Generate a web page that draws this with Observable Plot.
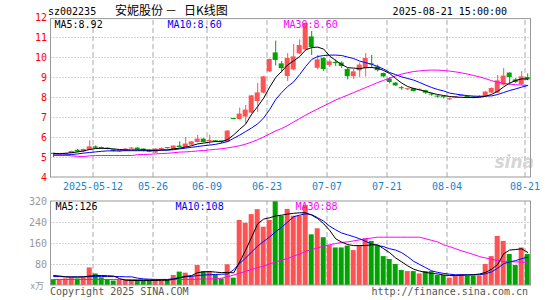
<!DOCTYPE html>
<html><head><meta charset="utf-8">
<script src="https://cdn.jsdelivr.net/npm/d3@7"></script>
<script src="https://cdn.jsdelivr.net/npm/@observablehq/plot@0.6"></script>
<style>
body{margin:0;background:#fff;}
#wrap{position:relative;width:545px;height:300px;overflow:hidden;font-family:"DejaVu Sans Mono",monospace;}
.t{position:absolute;white-space:pre;line-height:12px;font-size:10px;}
.c{position:absolute;white-space:pre;font-family:'Noto Sans CJK SC';font-size:12px;line-height:14px;color:#000;top:3px;}
#p1,#p2{position:absolute;left:0;}
#p1{top:0;} #p2{top:190px;}
</style></head><body>
<div id="wrap">
  <div id="p1"></div><div id="p2"></div>
  <div class="t" style="left:48px;top:6px;color:#000">sz002235</div>
  <div class="c" style="left:115px;">安妮股份</div>
  <div class="c" style="left:165px;">－</div>
  <div class="c" style="left:184px;">日K线图</div>
  <div class="t" style="right:38px;top:6px;color:#000">2025-08-21 15:00:00</div>
  <div class="t" style="left:50px;top:286px;color:#555">Copyright 2025 SINA.COM</div>
  <div class="t" style="right:17px;top:286px;color:#555">http://finance.sina.com.cn</div>
</div>
<script>
const dates = ["04-28","04-29","04-30","05-06","05-07","05-08","05-09","05-12","05-13","05-14","05-15","05-16","05-19","05-20","05-21","05-22","05-23","05-26","05-27","05-28","05-29","05-30","06-03","06-04","06-05","06-06","06-09","06-10","06-11","06-12","06-13","06-16","06-17","06-18","06-19","06-20","06-23","06-24","06-25","06-26","06-27","06-30","07-01","07-02","07-03","07-04","07-07","07-08","07-09","07-10","07-11","07-14","07-15","07-16","07-17","07-18","07-21","07-22","07-23","07-24","07-25","07-28","07-29","07-30","07-31","08-01","08-04","08-05","08-06","08-07","08-08","08-11","08-12","08-13","08-14","08-15","08-18","08-19","08-20","08-21"];
const openP  = [5.20,5.12,5.14,5.20,5.36,5.28,5.37,5.53,5.50,5.45,5.38,5.28,5.32,5.42,5.47,5.42,5.36,5.22,5.38,5.46,5.40,5.57,5.50,5.62,5.75,5.92,5.80,5.82,5.81,5.76,6.92,6.90,7.02,7.22,7.80,8.22,9.28,10.23,9.68,9.05,9.38,10.18,10.38,11.03,9.46,9.96,9.60,9.72,9.72,9.40,9.04,9.33,9.45,9.68,9.52,9.20,8.92,8.72,8.46,8.39,8.44,8.36,8.34,8.14,8.04,8.01,7.88,7.99,8.05,8.07,8.02,8.00,8.06,8.22,8.22,8.62,9.22,8.88,8.64,9.00];
const highP  = [5.22,5.18,5.22,5.32,5.40,5.42,5.83,5.58,5.52,5.47,5.40,5.36,5.45,5.50,5.48,5.43,5.37,5.44,5.48,5.47,5.58,5.78,6.00,5.80,6.10,5.94,6.10,5.84,5.82,6.34,6.93,7.47,7.60,8.10,8.70,9.05,9.92,10.82,9.80,10.20,10.65,10.88,11.72,11.30,10.10,9.98,9.88,9.88,9.78,9.45,9.40,9.72,10.20,10.10,9.62,9.22,9.00,8.75,8.55,8.44,8.46,8.42,8.36,8.22,8.10,8.06,7.97,8.05,8.12,8.10,8.05,8.10,8.30,8.48,9.10,9.45,9.24,8.95,9.30,9.18];
const lowP   = [5.00,5.08,5.10,5.18,5.24,5.26,5.35,5.40,5.42,5.38,5.27,5.25,5.30,5.40,5.36,5.28,5.24,5.20,5.36,5.42,5.39,5.48,5.48,5.60,5.73,5.73,5.62,5.76,5.70,5.74,6.89,6.88,6.68,7.20,7.24,8.18,9.25,9.58,9.22,8.80,9.33,10.15,10.35,10.10,9.38,9.30,9.50,9.55,9.45,8.88,8.90,9.00,9.03,9.45,9.28,8.98,8.68,8.55,8.36,8.34,8.27,8.33,8.15,8.06,7.97,7.93,7.85,7.96,8.03,7.95,7.93,7.98,8.04,8.20,8.18,8.58,8.62,8.70,8.60,8.84];
const closeP = [5.16,5.16,5.20,5.30,5.28,5.40,5.53,5.46,5.45,5.42,5.30,5.34,5.42,5.46,5.38,5.34,5.26,5.42,5.45,5.44,5.57,5.50,5.67,5.78,5.92,5.75,5.86,5.79,5.78,6.32,6.90,7.17,7.37,8.08,8.23,9.03,9.90,9.85,9.44,9.95,10.03,10.60,11.70,10.50,9.88,9.40,9.78,9.70,9.55,9.04,9.28,9.62,9.95,9.63,9.34,9.03,8.75,8.58,8.44,8.41,8.30,8.39,8.22,8.12,8.02,7.99,7.94,8.02,8.08,7.98,7.96,8.05,8.27,8.45,8.83,9.07,9.00,8.75,9.03,8.88];
const ma5P  = [5.20,5.20,5.21,5.24,5.28,5.33,5.40,5.45,5.46,5.45,5.43,5.40,5.38,5.38,5.38,5.38,5.37,5.36,5.38,5.38,5.43,5.47,5.52,5.59,5.68,5.72,5.77,5.80,5.79,5.90,6.13,6.41,6.67,7.17,7.55,7.97,8.52,9.00,9.31,9.63,9.83,10.05,10.38,10.50,10.52,10.42,10.07,9.85,9.65,9.49,9.47,9.44,9.49,9.50,9.46,9.35,9.20,8.95,8.72,8.55,8.45,8.38,8.30,8.22,8.15,8.10,8.05,8.02,8.01,8.00,8.00,8.01,8.06,8.16,8.31,8.53,8.72,8.85,8.93,8.92];
const ma10P = [5.12,5.12,5.13,5.15,5.18,5.22,5.25,5.28,5.31,5.33,5.33,5.33,5.34,5.34,5.34,5.34,5.34,5.35,5.36,5.37,5.39,5.43,5.47,5.51,5.55,5.59,5.62,5.66,5.72,5.80,5.96,6.12,6.30,6.48,6.68,6.98,7.40,7.90,8.25,8.55,8.78,9.15,9.55,9.90,10.05,10.10,10.12,10.12,10.10,10.02,9.95,9.82,9.74,9.66,9.55,9.42,9.25,9.14,9.03,8.95,8.87,8.75,8.62,8.50,8.40,8.33,8.22,8.17,8.13,8.09,8.07,8.06,8.07,8.08,8.15,8.25,8.35,8.43,8.52,8.60];
const ma30P = [5.12,5.12,5.11,5.08,5.06,5.05,5.08,5.10,5.10,5.10,5.10,5.10,5.10,5.10,5.14,5.15,5.16,5.18,5.20,5.21,5.24,5.27,5.28,5.30,5.33,5.35,5.38,5.41,5.44,5.48,5.53,5.59,5.67,5.77,5.89,6.03,6.18,6.33,6.45,6.60,6.78,6.95,7.12,7.28,7.43,7.58,7.72,7.88,8.00,8.12,8.25,8.37,8.50,8.62,8.75,8.86,8.97,9.08,9.17,9.24,9.30,9.33,9.36,9.37,9.37,9.35,9.32,9.28,9.23,9.17,9.10,9.03,8.94,8.84,8.76,8.71,8.67,8.64,8.62,8.60];
const volume = [22,22,25,28,25,29,67,44,29,22,17,19,22,22,19,19,19,19,22,19,38,51,47,34,76,53,53,40,25,79,28,248,237,270,289,222,248,322,264,290,264,264,305,193,216,182,152,143,143,150,133,152,178,168,150,110,99,80,57,53,53,44,53,53,38,38,28,38,41,36,36,36,80,110,187,168,118,76,143,118];
const ma5V  = [38,36,33,32,32,33,36,38,38,37,36,26,20,19,19,19,19,19,20,20,24,30,35,38,49,52,53,51,49,50,48,90,135,185,235,253,258,265,268,272,275,277,277,268,255,235,210,178,165,156,152,152,152,155,155,140,125,105,90,75,62,55,50,46,44,40,38,38,39,40,41,44,50,62,80,121,135,137,140,126];
const ma10V = [34,34,33,33,33,33,34,34,34,34,34,34,33,33,28,25,24,23,23,23,26,30,33,35,38,40,41,42,43,44,60,84,105,128,150,168,185,205,222,242,262,268,273,270,258,245,226,212,200,193,186,178,168,158,152,148,140,135,125,110,92,80,68,56,50,46,43,41,41,41,41,41,45,52,66,83,90,95,102,108];
const ma30V = [23,23,23,23,23,23,23,23,23,23,23,23,23,23,23,23,23,23,23,23,23,23,23,23,24,25,25,26,28,33,40,47,54,61,68,74,82,90,97,103,112,120,130,137,143,150,155,160,164,166,170,174,178,181,184,184,184,184,184,184,184,184,178,172,166,155,148,140,132,125,118,110,105,100,95,91,91,90,89,88];
const tickDates  = ["05-12","05-26","06-09","06-23","07-07","07-21","08-04","08-21"];
const tickLabels = ["2025-05-12","05-26","06-09","06-23","07-07","07-21","08-04","08-21"];
const priceTicks = [4,5,6,7,8,9,10,11,12];
const volTicks = [80,160,240,320];
const volTickLabels = ["80","160","240","320"];

const RED = "#ff5252", GREEN = "#00a300";
const rows = dates.map((d,i)=>({i, d, o:openP[i], h:highP[i], l:lowP[i], c:closeP[i], v:volume[i], col: closeP[i]>=openP[i] ? RED : GREEN}));
const tIdx = tickDates.map(t => dates.indexOf(t));
const ticks = tIdx.map((i,k)=>({i, label: tickLabels[k]}));
const series = (arr) => arr.map((v,i)=>({i, v}));
const font = "DejaVu Sans Mono";

const p1 = Plot.plot({
  width:545, height:190, marginLeft:50.5, marginRight:14.5, marginTop:17, marginBottom:13,
  x:{type:"linear", domain:[0,80], axis:null},
  y:{domain:[4,12], axis:null},
  style:{background:"transparent", fontFamily:font, fontSize:"10px", overflow:"visible"},
  marks:[
    Plot.ruleY(priceTicks.filter(t=>t>4&&t<12), {x1:0, x2:80, stroke:"#aaa", strokeDasharray:"1,2"}),
    Plot.ruleX(ticks, {x:"i", y1:4, y2:11.92, stroke:"#aaa", strokeDasharray:"5,3"}),
    Plot.text(["sina"], {x:77.2, y:4.75, text:d=>d, fill:"#d6d6d6", fontSize:17, fontWeight:"bold", fontStyle:"italic", fontFamily:"DejaVu Sans"}),
    Plot.ruleX(rows, {x:r=>r.i+0.45, y1:"l", y2:"h", stroke:"col"}),
    Plot.rect(rows, {x1:r=>r.i+0.033, x2:r=>r.i+0.867, y1:r=>Math.min(r.o,r.c), y2:r=>Math.max(Math.max(r.o,r.c), Math.min(r.o,r.c)+0.05), fill:"col"}),
    Plot.line(series(ma30P), {x:d=>d.i+0.45, y:"v", stroke:"#ff00ff", strokeWidth:1}),
    Plot.line(series(ma10P), {x:d=>d.i+0.45, y:"v", stroke:"#0000ff", strokeWidth:1}),
    Plot.line(series(ma5P), {x:d=>d.i+0.45, y:"v", stroke:"#000", strokeWidth:1}),
    Plot.rect([0], {x1:0, x2:80, y1:4, y2:11.92, fill:"none", stroke:"#999"}),
    Plot.text(priceTicks, {x:0, y:d=>d, text:d=>String(d), dx:-4, textAnchor:"end", fill:"#ff0000", fontSize:10}),
    Plot.text(ticks, {x:"i", y:4, text:"label", dy:9, fill:"#1a84c8", fontSize:10}),
    Plot.text(["MA5:"+ma5P[79].toFixed(2)], {frameAnchor:"top-left", dx:3.5, dy:7.5, text:d=>d, fill:"#000", textAnchor:"start", lineAnchor:"middle"}),
    Plot.text(["MA10:"+ma10P[79].toFixed(2)], {frameAnchor:"top-left", dx:116.5, dy:7.5, text:d=>d, fill:"#0000ff", textAnchor:"start", lineAnchor:"middle"}),
    Plot.text(["MA30:"+ma30P[79].toFixed(2)], {frameAnchor:"top-left", dx:232.5, dy:7.5, text:d=>d, fill:"#ff00ff", textAnchor:"start", lineAnchor:"middle"})
  ]
});
document.getElementById("p1").appendChild(p1);

const p2 = Plot.plot({
  width:545, height:110, marginLeft:50.5, marginRight:14.5, marginTop:11, marginBottom:15,
  x:{type:"linear", domain:[0,80], axis:null},
  y:{domain:[0,320], axis:null},
  style:{background:"transparent", fontFamily:font, fontSize:"10px", overflow:"visible"},
  marks:[
    Plot.ruleY(volTicks.filter(t=>t<320), {x1:0, x2:80, stroke:"#aaa", strokeDasharray:"1,2"}),
    Plot.ruleX(ticks, {x:"i", y1:0, y2:320, stroke:"#aaa", strokeDasharray:"5,3"}),
    Plot.rect(rows, {x1:r=>r.i+0.033, x2:r=>r.i+0.867, y1:0, y2:"v", fill:"col", clip:true}),
    Plot.line(series(ma30V), {x:d=>d.i+0.45, y:"v", stroke:"#ff00ff", strokeWidth:1}),
    Plot.line(series(ma10V), {x:d=>d.i+0.45, y:"v", stroke:"#0000ff", strokeWidth:1}),
    Plot.line(series(ma5V), {x:d=>d.i+0.45, y:"v", stroke:"#000", strokeWidth:1}),
    Plot.rect([0], {x1:0, x2:80, y1:0, y2:320, fill:"none", stroke:"#999"}),
    Plot.text(volTicks, {x:0, y:d=>d, text:(d,k)=>volTickLabels[k], dx:-4, textAnchor:"end", fill:"#999", fontSize:10}),
    Plot.text(["x万"], {x:0, y:0, text:d=>d, dx:-7, dy:1, textAnchor:"end", fill:"#999", fontSize:9, fontFamily:"Noto Sans CJK SC"}),
    Plot.text(["MA5:"+ma5V[79]], {frameAnchor:"top-left", dx:4.5, dy:5.5, text:d=>d, fill:"#000", textAnchor:"start", lineAnchor:"middle"}),
    Plot.text(["MA10:"+ma10V[79]], {frameAnchor:"top-left", dx:124.5, dy:5.5, text:d=>d, fill:"#0000ff", textAnchor:"start", lineAnchor:"middle"}),
    Plot.text(["MA30:"+ma30V[79]], {frameAnchor:"top-left", dx:244.5, dy:5.5, text:d=>d, fill:"#ff00ff", textAnchor:"start", lineAnchor:"middle"})
  ]
});
document.getElementById("p2").appendChild(p2);
</script>
</body></html>
